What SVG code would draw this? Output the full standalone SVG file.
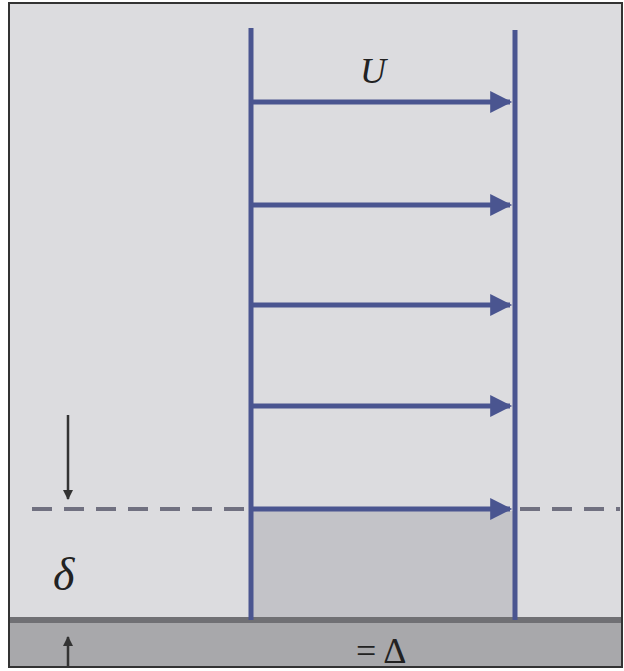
<svg xmlns="http://www.w3.org/2000/svg" width="624" height="671" viewBox="0 0 624 671">
<style>
.prof{stroke:#4a5590;stroke-width:5;fill:none}
.vel{stroke:#4a5590;stroke-width:5;fill:none;marker-end:url(#ah)}
.dim{stroke:#333;stroke-width:2.5;fill:none}
.lbl{font-family:"Liberation Serif",serif;fill:#222}
</style>
<defs>
<marker id="ah" viewBox="0 0 10 10" refX="9" refY="5" markerWidth="5" markerHeight="4.4" orient="auto" markerUnits="strokeWidth">
<path d="M0,0 L10,5 L0,10 z" fill="#4a5590"/>
</marker>
<marker id="sh" viewBox="0 0 10 10" refX="9" refY="5" markerWidth="5" markerHeight="4" orient="auto" markerUnits="strokeWidth">
<path d="M0,0 L10,5 L0,10 z" fill="#333"/>
</marker>
</defs>
<rect x="0" y="0" width="624" height="671" fill="#ffffff"/>
<rect id="frame" x="9" y="3" width="613" height="664" fill="#dcdcdf" stroke="#333" stroke-width="2"/>
<g id="layer">
<rect x="253" y="511" width="260" height="108" fill="#c3c3c8"/>
</g>
<g id="ground">
<rect x="10" y="618" width="611" height="48" fill="#a8a8ab"/>
<rect x="10" y="617" width="611" height="6" fill="#707074"/>
</g>
<g id="connectors">
<line class="prof" x1="251" y1="28" x2="251" y2="620"/>
<line class="prof" x1="515" y1="30" x2="515" y2="620"/>
<line class="vel" x1="253" y1="102" x2="510" y2="102"/>
<line class="vel" x1="253" y1="205" x2="510" y2="205"/>
<line class="vel" x1="253" y1="305" x2="510" y2="305"/>
<line class="vel" x1="253" y1="406" x2="510" y2="406"/>
<line class="vel" x1="253" y1="509" x2="510" y2="509"/>
<line x1="32" y1="509" x2="249" y2="509" stroke="#707080" stroke-width="4" stroke-dasharray="20,12"/>
<line x1="520" y1="509" x2="620" y2="509" stroke="#707080" stroke-width="4" stroke-dasharray="20,12"/>
<line class="dim" x1="68" y1="415" x2="68" y2="499" marker-end="url(#sh)"/>
<line class="dim" x1="68" y1="667" x2="68" y2="637" marker-end="url(#sh)"/>
</g>
<g id="labels">
<text class="lbl" x="360" y="83" font-size="36" font-style="italic">U</text>
<text class="lbl" x="53" y="590" font-size="46" font-style="italic">δ</text>
<text class="lbl" x="356" y="663" font-size="36" fill="#000">= Δ</text>
</g>
</svg>
